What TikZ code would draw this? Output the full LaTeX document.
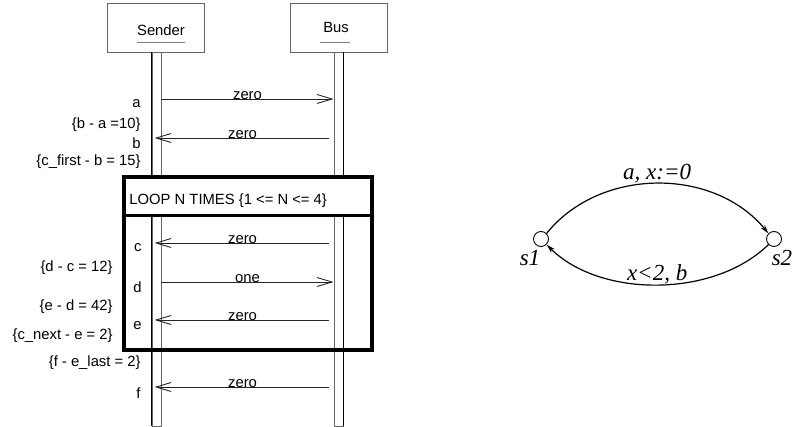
\documentclass[tikz,border=0pt]{standalone}
\usepackage{fontspec}
\setmainfont{Liberation Serif}
\setsansfont{Liberation Sans}
\usepackage{tikz}
\usetikzlibrary{arrows.meta, positioning}

\begin{document}
\begin{tikzpicture}[x=1pt, y=-1pt, line width=0.9pt,
    objbox/.style = {rectangle, draw=gray!80!black, minimum width=97pt, minimum height=49pt, inner sep=0pt},
    objname/.style = {inner sep=0pt, font=\sffamily\fontsize{14.8}{17}\selectfont},
    lifeline/.style = {rectangle, draw=gray!80!black, minimum width=9pt, minimum height=374pt, inner sep=0pt},
    msg/.style = {draw=black!85, -{Straight Barb[length=15pt, width=9pt]}},
    msglbl/.style = {inner sep=0pt, yshift=3pt, font=\sffamily\fontsize{14.8}{17}\selectfont},
    evt/.style = {anchor=east, inner sep=0pt, font=\sffamily\fontsize{14.8}{17}\selectfont},
    loopbox/.style = {draw=black, line width=3.5pt},
    stnode/.style = {circle, draw, minimum size=15pt, inner sep=0pt},
    statelbl/.style = {inner sep=0pt, font=\fontsize{23}{26}\selectfont\itshape},
    trans/.style = {line width=1.2pt, -{Stealth[length=9pt, width=5pt]}}
]
\useasboundingbox (0,0) rectangle (794,427);

% Objects
\node (sender) [objbox] at (155.5,27.5) {};
\node (bus) [objbox] at (338.5,27.5) {};
\node (sendername) [objname] at (161,30) {Sender};
\node (busname) [objname] at (336,27) {Bus};
\draw [gray] (sendername.west |- 0,42) -- (sendername.east |- 0,42);
\draw [gray] ([xshift=-3pt]busname.west |- 0,42) -- ([xshift=1pt]busname.east |- 0,42);

% Lifelines
\node (sline) [lifeline] at (156.5,239) {};
\node (bline) [lifeline] at (338.5,239) {};
\draw (sline.north west) -- (sline.south west);
\draw (bline.north east) -- (bline.south east);

% Loop frame
\draw [loopbox, fill=white] (124,177) rectangle (372,215.5);
\draw [loopbox] (124,215.5) rectangle (372,350);
\node (looptext) [objname, anchor=west] at (129,201) {LOOP N TIMES \{1 <= N <= 4\}};

% Messages
\draw [msg] (sline.east |- 0,99) -- node[msglbl] {zero} (bline.west |- 0,99);
\draw [msg, shorten <=5pt, shorten >=3pt] (bline.west |- 0,138) -- node[msglbl] {zero} (sline.west |- 0,138);
\draw [msg, shorten <=5pt, shorten >=3pt] (bline.west |- 0,243) -- node[msglbl] {zero} (sline.west |- 0,243);
\draw [msg] (sline.east |- 0,282) -- node[msglbl] {one} (bline.west |- 0,282);
\draw [msg, shorten <=5pt, shorten >=3pt] (bline.west |- 0,320) -- node[msglbl] {zero} (sline.west |- 0,320);
\draw [msg, shorten <=5pt, shorten >=3pt] (bline.west |- 0,387) -- node[msglbl] {zero} (sline.west |- 0,387);

% Events and constraints
\node (ea) [evt] at (141,104) {a};
\node (cba) [evt] at (141,125) {\{b - a =10\}};
\node (eb) [evt] at (141,143) {b};
\node (ccb) [evt] at (141,162) {\{c\_first - b = 15\}};
\node (ec) [evt] at (142,248) {c};
\node (cdc) [evt] at (113,268) {\{d - c = 12\}};
\node (ed) [evt] at (142,287) {d};
\node (ced) [evt] at (113,307) {\{e - d = 42\}};
\node (ee) [evt] at (142,326) {e};
\node (cce) [evt] at (113,336) {\{c\_next - e = 2\}};
\node (cfe) [evt] at (141,363) {\{f - e\_last = 2\}};
\node (ef) [evt] at (141,393) {f};

% Automaton
\node (s1) [stnode] at (541,239) {};
\node (s2) [stnode] at (774,239) {};
\node (s1name) [statelbl] at (530,258) {s1};
\node (s2name) [statelbl] at (782,258) {s2};
\draw [trans] (s1.45) .. controls (600,167) and (714,167) .. node[statelbl, above] {a, x:=0} (s2.135);
\draw [trans] (s2.-135) .. controls (714,298) and (600,298) .. node[statelbl, above] {x<2, b} (s1.-45);

\end{tikzpicture}
\end{document}
